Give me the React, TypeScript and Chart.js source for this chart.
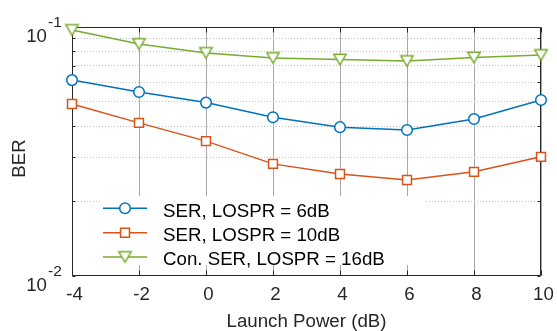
import React, { useEffect, useRef } from "react";
import { Chart, registerables } from "chart.js";

Chart.register(...registerables);

// Launch power sweep (dB) and measured error rates
const launchPower = [-4, -2, 0, 2, 4, 6, 8, 10];
const serLospr6 = [0.0612, 0.0548, 0.0497, 0.0434, 0.0396, 0.0386, 0.0427, 0.0509];
const serLospr10 = [0.0491, 0.0412, 0.0348, 0.0282, 0.0257, 0.0243, 0.0262, 0.0301];
const conSerLospr16 = [0.0973, 0.0855, 0.0787, 0.0751, 0.074, 0.073, 0.0754, 0.0772];

const seriesLabels = ["SER, LOSPR = 6dB", "SER, LOSPR = 10dB", "Con. SER, LOSPR = 16dB"];
const yMajorTicks = [0.01, 0.1];
const xTitle = "Launch Power (dB)";
const yTitle = "BER";

const FONT = "'Liberation Sans', Arial, Helvetica, sans-serif";
const FONT_SIZE = 18.7;
const AXIS_COLOR = "#262626";
const BLUE = "#0072BD";
const ORANGE = "#D95319";
const GREEN = "#77AC30";

function makeTriangle(color: string): HTMLCanvasElement {
  const c = document.createElement("canvas");
  c.width = 17;
  c.height = 17;
  const g = c.getContext("2d")!;
  const cx = 8.5;
  const cy = 8.5;
  const hw = 6.2;
  const hh = 5.3;
  g.beginPath();
  g.moveTo(cx - hw, cy - hh);
  g.lineTo(cx + hw, cy - hh);
  g.lineTo(cx, cy + hh);
  g.closePath();
  g.fillStyle = "#ffffff";
  g.fill();
  g.strokeStyle = color;
  g.lineWidth = 1.5;
  g.stroke();
  return c;
}

function drawMarker(ctx: CanvasRenderingContext2D, ds: any, x: number, y: number) {
  const style = ds.pointStyle;
  if (style && typeof style === "object") {
    ctx.drawImage(style, x - style.width / 2, y - style.height / 2);
    return;
  }
  ctx.save();
  ctx.beginPath();
  if (style === "rect") {
    const s = Math.SQRT1_2 * ds.pointRadius;
    ctx.rect(x - s, y - s, 2 * s, 2 * s);
  } else {
    ctx.arc(x, y, ds.pointRadius, 0, Math.PI * 2);
  }
  ctx.fillStyle = "#ffffff";
  ctx.fill();
  ctx.lineWidth = ds.pointBorderWidth;
  ctx.strokeStyle = ds.pointBorderColor;
  ctx.stroke();
  ctx.restore();
}

const axesPlugin = {
  id: "boxedAxes",
  beforeDatasetsDraw(chart: any) {
    const { ctx, chartArea, scales } = chart;
    const l = Math.round(chartArea.left) + 0.5;
    const r = Math.round(chartArea.right) - 0.5;
    const t = Math.round(chartArea.top) + 0.5;
    const b = Math.round(chartArea.bottom) - 0.5;
    ctx.save();
    ctx.strokeStyle = AXIS_COLOR;
    ctx.lineWidth = 1;
    ctx.beginPath();
    ctx.rect(l, t, r - l, b - t);
    // inward ticks on x
    for (const tk of scales.x.ticks) {
      const px = Math.round(scales.x.getPixelForValue(tk.value)) + 0.5;
      ctx.moveTo(px, b);
      ctx.lineTo(px, b - 5);
      ctx.moveTo(px, t);
      ctx.lineTo(px, t + 5);
    }
    // inward ticks on y
    for (const tk of scales.y.ticks) {
      const py = Math.round(scales.y.getPixelForValue(tk.value)) + 0.5;
      ctx.moveTo(l, py);
      ctx.lineTo(l + 3, py);
      ctx.moveTo(r, py);
      ctx.lineTo(r - 3, py);
    }
    ctx.stroke();
    ctx.restore();
  },
  afterDraw(chart: any) {
    const { ctx, chartArea, scales } = chart;
    const ys = scales.y;
    ctx.save();
    ctx.fillStyle = AXIS_COLOR;
    ctx.textBaseline = "alphabetic";
    for (const v of yMajorTicks) {
      const py = ys.getPixelForValue(v);
      ctx.font = `${FONT_SIZE}px ${FONT}`;
      ctx.textAlign = "right";
      ctx.fillText("10", chartArea.left - 25, py + 15.3);
      ctx.font = `15.5px ${FONT}`;
      ctx.textAlign = "left";
      ctx.fillText(String(Math.round(Math.log10(v))), chartArea.left - 24, py + 0.3);
    }
    // y-axis title
    ctx.save();
    ctx.translate(25, 158.5);
    ctx.rotate(-Math.PI / 2);
    ctx.font = `${FONT_SIZE}px ${FONT}`;
    ctx.textAlign = "center";
    ctx.fillText(yTitle, 0, 0);
    ctx.restore();

    // legend
    const lx = 100;
    const ly = 196;
    ctx.fillStyle = "#ffffff";
    ctx.fillRect(lx, ly, 325, 69);
    const rows = [208.3, 232.7, 257];
    chart.data.datasets.forEach((ds: any, i: number) => {
      const y = rows[i];
      ctx.strokeStyle = ds.borderColor;
      ctx.lineWidth = ds.borderWidth;
      ctx.beginPath();
      ctx.moveTo(103, y);
      ctx.lineTo(147, y);
      ctx.stroke();
      drawMarker(ctx, ds, 125, y);
      ctx.fillStyle = "#000000";
      ctx.font = `${FONT_SIZE}px ${FONT}`;
      ctx.textAlign = "left";
      ctx.fillText(ds.label, 163, y + 8.3);
    });
    ctx.restore();
  },
};

export default function App() {
  const canvasRef = useRef<HTMLCanvasElement | null>(null);

  useEffect(() => {
    const canvas = canvasRef.current;
    if (!canvas) return;
    const tri = makeTriangle(GREEN);
    const toPoints = (vals: number[]) => launchPower.map((x, i) => ({ x, y: vals[i] }));

    const chart = new Chart(canvas, {
      type: "line",
      data: {
        datasets: [
          {
            label: seriesLabels[0],
            data: toPoints(serLospr6),
            borderColor: BLUE,
            borderWidth: 1.5,
            pointStyle: "circle",
            pointRadius: 5.3,
            pointBorderWidth: 1.5,
            pointBorderColor: BLUE,
            pointBackgroundColor: "#ffffff",
            clip: false,
          },
          {
            label: seriesLabels[1],
            data: toPoints(serLospr10),
            borderColor: ORANGE,
            borderWidth: 1.5,
            pointStyle: "rect",
            pointRadius: 6.3,
            pointBorderWidth: 1.5,
            pointBorderColor: ORANGE,
            pointBackgroundColor: "#ffffff",
            clip: false,
          },
          {
            label: seriesLabels[2],
            data: toPoints(conSerLospr16),
            borderColor: GREEN,
            borderWidth: 1.5,
            pointStyle: tri,
            pointRadius: 6,
            pointBorderWidth: 1.5,
            pointBorderColor: GREEN,
            pointBackgroundColor: "#ffffff",
            clip: false,
          },
        ],
      } as any,
      options: {
        responsive: false,
        animation: false,
        devicePixelRatio: 1,
        layout: { padding: { top: 27, right: 16, left: 0, bottom: 0 } },
        plugins: {
          legend: { display: false },
          tooltip: { enabled: false },
          title: { display: false },
        },
        events: [],
        scales: {
          x: {
            type: "linear",
            min: -4,
            max: 10,
            ticks: {
              stepSize: 2,
              color: AXIS_COLOR,
              font: { family: FONT, size: FONT_SIZE },
              padding: 8,
              labelOffset: 2.5,
              maxRotation: 0,
              autoSkip: false,
            },
            grid: { color: "#a8a8a8", lineWidth: 1, drawTicks: false },
            border: { display: false },
            title: {
              display: true,
              text: xTitle,
              color: AXIS_COLOR,
              font: { family: FONT, size: FONT_SIZE, lineHeight: 1 },
              padding: 0,
            },
            afterFit: (s: any) => {
              s.height = 55;
              s.paddingLeft = 0;
              s.paddingRight = 0;
            },
          },
          y: {
            type: "logarithmic",
            min: 0.01,
            max: 0.1,
            ticks: { display: false },
            afterBuildTicks: (s: any) => {
              s.ticks = [1, 2, 3, 4, 5, 6, 7, 8, 9, 10].map((k) => ({ value: k / 100 }));
            },
            grid: {
              color: (c: any) =>
                yMajorTicks.some((m) => Math.abs(m - c.tick?.value) < 1e-9) ? "rgba(0,0,0,0)" : "#c4c4c4",
              lineWidth: 1,
              drawTicks: false,
            },
            border: { display: false, dash: [1, 2] },
            afterFit: (s: any) => {
              s.width = 72;
              s.paddingTop = 0;
              s.paddingBottom = 0;
            },
          },
        },
      } as any,
      plugins: [axesPlugin],
    });

    return () => chart.destroy();
  }, []);

  return (
    <div style={{ position: "fixed", left: 0, top: 0, width: 557, height: 331, background: "#fff" }}>
      <canvas ref={canvasRef} width={557} height={331} style={{ width: 557, height: 331, display: "block" }} />
    </div>
  );
}
